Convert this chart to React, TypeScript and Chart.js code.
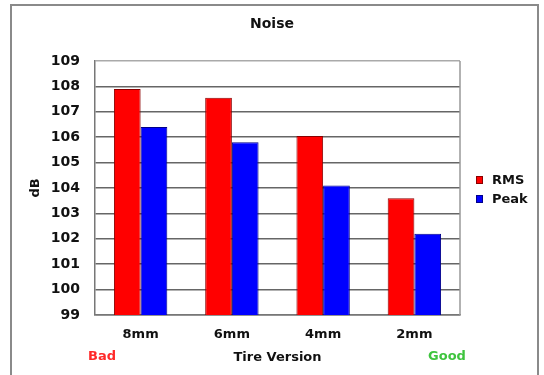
import React, { useEffect, useRef } from "react";
import { Chart, registerables } from "chart.js";

Chart.register(...registerables);

const categories = ["8mm", "6mm", "4mm", "2mm"];
const rmsValues = [107.9, 107.55, 106.05, 103.6];
const peakValues = [106.4, 105.8, 104.1, 102.2];
const seriesNames = ["RMS", "Peak"];
const chartTitle = "Noise";
const xTitle = "Tire Version";
const yTitle = "dB";
const leftNote = "Bad";
const rightNote = "Good";

const FONT = "'DejaVu Sans', sans-serif";

const decorPlugin = {
  id: "decor",
  afterDraw(chart: any) {
    const { ctx, chartArea } = chart;
    ctx.save();
    // outer frame
    ctx.strokeStyle = "#8a8a8a";
    ctx.lineWidth = 2;
    ctx.beginPath();
    ctx.moveTo(11, 380);
    ctx.lineTo(11, 5);
    ctx.lineTo(538, 5);
    ctx.lineTo(538, 380);
    ctx.stroke();
    // right border of plot
    ctx.strokeStyle = "#999";
    ctx.lineWidth = 1.5;
    ctx.beginPath();
    ctx.moveTo(chartArea.right, chartArea.top);
    ctx.lineTo(chartArea.right, chartArea.bottom);
    ctx.stroke();
    // title
    ctx.fillStyle = "#111";
    ctx.font = `bold 14px ${FONT}`;
    ctx.textAlign = "center";
    ctx.textBaseline = "middle";
    ctx.fillText(chartTitle, 272, 24);
    // Bad / Good
    ctx.font = `bold 13px ${FONT}`;
    ctx.fillStyle = "#ff2a2a";
    ctx.fillText(leftNote, 102, 357);
    ctx.fillStyle = "#3ec43e";
    ctx.fillText(rightNote, 447, 357);
    // legend
    const ds = chart.data.datasets;
    ctx.textAlign = "left";
    ctx.font = `bold 13px ${FONT}`;
    ds.forEach((d: any, i: number) => {
      const cy = 180 + i * 19;
      ctx.fillStyle = d.backgroundColor;
      ctx.fillRect(476, cy - 4, 7, 8);
      ctx.strokeStyle = d.borderColor;
      ctx.lineWidth = 1;
      ctx.strokeRect(476.5, cy - 3.5, 6, 7);
      ctx.fillStyle = "#111";
      ctx.fillText(d.label, 492, cy + 1);
    });
    ctx.restore();
  },
};

export default function App() {
  const ref = useRef<HTMLCanvasElement>(null);
  useEffect(() => {
    if (!ref.current) return;
    const chart = new Chart(ref.current, {
      type: "bar",
      data: {
        labels: categories,
        datasets: [
          {
            label: seriesNames[0],
            data: rmsValues,
            backgroundColor: "#ff0000",
            borderColor: "#8a0000",
            borderWidth: 1,
            categoryPercentage: 0.585,
            barPercentage: 1,
          },
          {
            label: seriesNames[1],
            data: peakValues,
            backgroundColor: "#0000ff",
            borderColor: "#00008a",
            borderWidth: 1,
            categoryPercentage: 0.585,
            barPercentage: 1,
          },
        ],
      },
      options: {
        animation: false,
        responsive: true,
        maintainAspectRatio: false,
        layout: { padding: { left: 20, top: 61, right: 84, bottom: 0 } },
        plugins: {
          legend: { display: false },
          title: { display: false },
          tooltip: { enabled: false },
        },
        scales: {
          x: {
            afterFit: (s: any) => {
              s.height = 60;
            },
            grid: { display: true, drawOnChartArea: false, drawTicks: false },
            border: { display: true, color: "#777", width: 1.5 },
            ticks: {
              padding: 12,
              color: "#111",
              font: { family: FONT, size: 13, weight: "bold" },
            },
            title: {
              display: true,
              text: xTitle,
              color: "#111",
              padding: { top: 0, bottom: 10 },
              font: { family: FONT, size: 13, weight: "bold" },
            },
          },
          y: {
            min: 99,
            max: 109,
            afterFit: (s: any) => {
              s.width = 75;
            },
            grid: {
              drawTicks: false,
              color: (c: any) => (c.tick && c.tick.value === 109 ? "#aaa" : "#666"),
              lineWidth: 1.5,
            },
            border: { display: true, color: "#777", width: 1.5 },
            ticks: {
              stepSize: 1,
              padding: 15,
              color: "#111",
              font: { family: FONT, size: 14, weight: "bold" },
            },
            title: {
              display: true,
              text: yTitle,
              color: "#111",
              padding: { top: 8, bottom: 0 },
              font: { family: FONT, size: 13, weight: "bold" },
            },
          },
        },
      },
      plugins: [decorPlugin],
    });
    return () => chart.destroy();
  }, []);
  return (
    <div style={{ position: "fixed", left: 0, top: 0, width: 544, height: 375, background: "#fff" }}>
      <canvas ref={ref} />
    </div>
  );
}
